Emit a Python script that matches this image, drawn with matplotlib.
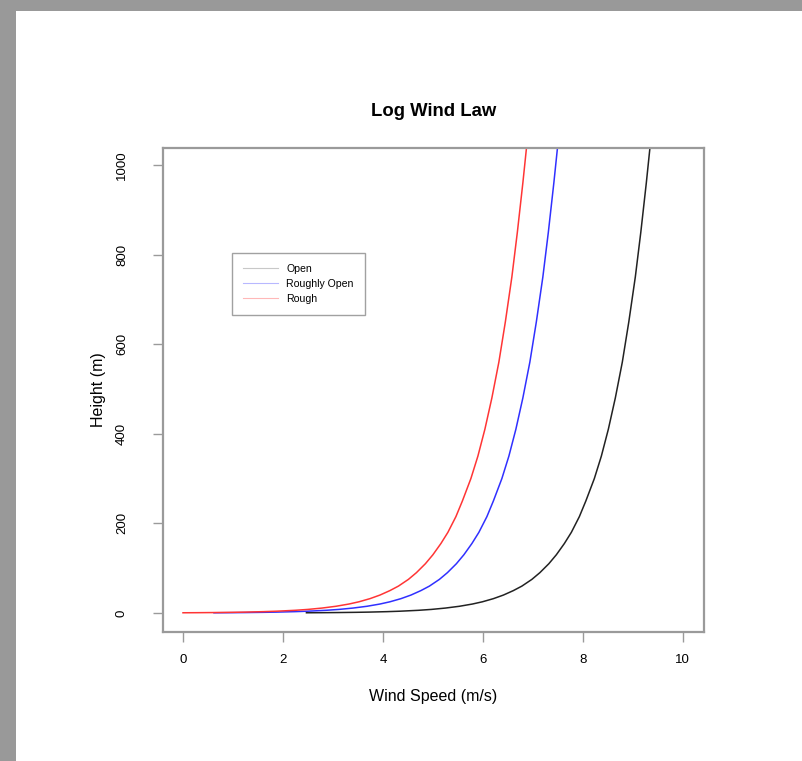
import matplotlib
matplotlib.use("Agg")
import matplotlib.pyplot as plt
from matplotlib.patches import Rectangle

plt.rcParams["font.family"] = ["Liberation Sans", "DejaVu Sans"]

# heights (m) and wind speeds (m/s)
height = [0.5, 0.7, 1, 1.5, 2, 3, 4, 6, 8, 11, 15, 20, 25, 32, 40, 50, 60, 75, 90,
          110, 130, 155, 180, 215, 250, 300, 350, 410, 480, 560, 650, 750, 850, 960, 1100]
speed_open = [2.47, 2.77, 3.09, 3.46, 3.72, 4.08, 4.34, 4.71, 4.97, 5.25, 5.53, 5.79,
              5.99, 6.21, 6.41, 6.61, 6.78, 6.98, 7.14, 7.32, 7.47, 7.63, 7.77, 7.93,
              8.06, 8.23, 8.37, 8.51, 8.65, 8.79, 8.92, 9.05, 9.16, 9.27, 9.40]
speed_roughly_open = [0.62, 0.92, 1.24, 1.61, 1.87, 2.23, 2.49, 2.86, 3.12, 3.40, 3.68,
                      3.94, 4.14, 4.36, 4.56, 4.76, 4.93, 5.13, 5.29, 5.47, 5.62, 5.78,
                      5.92, 6.08, 6.21, 6.38, 6.52, 6.66, 6.80, 6.94, 7.07, 7.20, 7.31,
                      7.42, 7.55]
speed_rough = [0.00, 0.30, 0.62, 0.99, 1.25, 1.61, 1.87, 2.24, 2.50, 2.78, 3.06, 3.32,
               3.52, 3.74, 3.94, 4.14, 4.31, 4.51, 4.67, 4.85, 5.00, 5.16, 5.30, 5.46,
               5.59, 5.76, 5.90, 6.04, 6.18, 6.32, 6.45, 6.58, 6.69, 6.80, 6.93]

labels = ["Open", "Roughly Open", "Rough"]
colors = ["#222222", "#3030ff", "#ff3535"]
legend_colors = ["#c8c8c8", "#b8b8ff", "#ffb8b8"]

fig = plt.figure(figsize=(8.03, 7.61), dpi=100, facecolor="#999999")
fig.patches.append(Rectangle((16 / 803, 0), 1, 750 / 761, transform=fig.transFigure,
                             facecolor="white", edgecolor="none", zorder=-10))

ax = fig.add_axes([162.7 / 803, 1 - 632 / 761, 541.6 / 803, 483.7 / 761])
ax.set_facecolor("white")

for s, c, lab in zip([speed_open, speed_roughly_open, speed_rough], colors, labels):
    ax.plot(s, height, color=c, lw=1.1, label=lab)

ax.set_xlim(-0.406, 10.43)
ax.set_ylim(-42.4, 1037)
ax.set_xticks([0, 2, 4, 6, 8, 10])
ax.set_yticks([0, 200, 400, 600, 800, 1000])

for sp in ax.spines.values():
    sp.set_color("#9a9a9a")
    sp.set_linewidth(1.6)

ax.tick_params(axis="x", length=7, width=1, color="#9a9a9a", pad=9, labelsize=9.5)
ax.tick_params(axis="y", length=7, width=1, color="#9a9a9a", pad=18, labelsize=9.5,
               labelrotation=90)
for t in ax.get_yticklabels():
    t.set_va("center")

leg = ax.legend(loc="upper left", bbox_to_anchor=(0.128, 0.7835), fontsize=7.6,
                frameon=True, fancybox=False, handlelength=3.3, handletextpad=0.8,
                labelspacing=0.45, borderpad=1.05, borderaxespad=0)
leg.get_frame().set_edgecolor("#8a8a8a")
leg.get_frame().set_linewidth(1.0)
for ln, lc in zip(leg.get_lines(), legend_colors):
    ln.set_linewidth(0.8)
    ln.set_color(lc)

fig.text(433.5 / 803, 1 - 112 / 761, "Log Wind Law", ha="center", va="center",
         fontsize=13.3, fontweight="bold")
fig.text(433.5 / 803, 1 - 697 / 761, "Wind Speed (m/s)", ha="center", va="center",
         fontsize=11.5)
fig.text(99 / 803, 1 - 390 / 761, "Height (m)", ha="center", va="center",
         fontsize=11.5, rotation=90)

fig.savefig("out.png", dpi=100, facecolor=fig.get_facecolor())
